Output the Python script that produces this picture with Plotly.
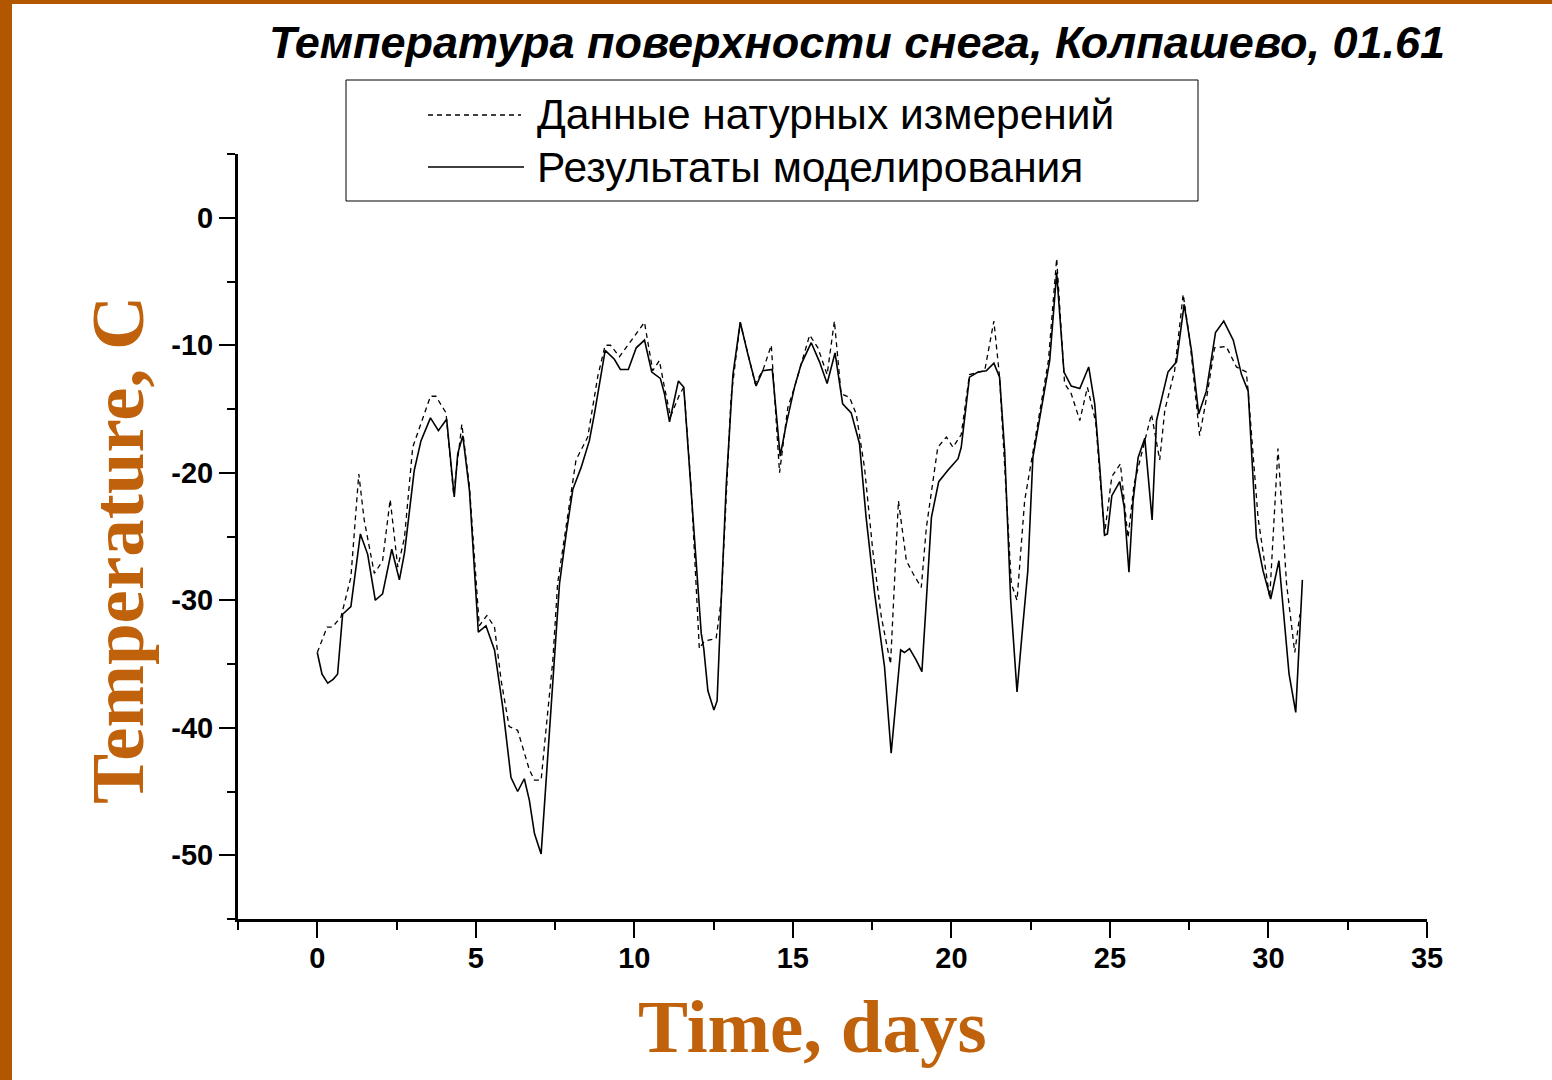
import plotly.graph_objects as go

# Model results: time (days) and snow surface temperature (°C)
t_model = [0.0, 0.15, 0.33, 0.5, 0.64, 0.80, 1.06, 1.36, 1.59, 1.83, 2.06, 2.35, 2.59, 2.75,
           3.06, 3.27, 3.57, 3.82, 4.08, 4.32, 4.43, 4.59, 4.80, 5.08, 5.32, 5.59, 5.85, 6.11,
           6.32, 6.53, 6.69, 6.85, 7.06, 7.22, 7.37, 7.64, 7.85, 8.06, 8.32, 8.58, 8.74, 9.08,
           9.37, 9.56, 9.81, 10.06, 10.32, 10.55, 10.82, 10.95, 11.11, 11.27, 11.39, 11.56,
           11.74, 11.95, 12.11, 12.19, 12.32, 12.51, 12.61, 12.74, 12.90, 13.11, 13.34, 13.58,
           13.84, 14.05, 14.35, 14.60, 14.79, 15.05, 15.26, 15.58, 15.84, 16.08, 16.33, 16.57,
           16.84, 17.10, 17.31, 17.58, 17.89, 18.10, 18.26, 18.40, 18.52, 18.68, 18.89, 19.07,
           19.21, 19.37, 19.60, 19.89, 20.21, 20.31, 20.57, 20.84, 21.10, 21.34, 21.52, 21.68,
           21.87, 22.07, 22.23, 22.41, 22.57, 22.83, 23.10, 23.32, 23.55, 23.78, 24.05, 24.33,
           24.52, 24.68, 24.83, 24.92, 25.06, 25.31, 25.45, 25.60, 25.73, 25.89, 26.10, 26.33,
           26.47, 26.62, 26.83, 27.10, 27.34, 27.57, 27.80, 28.04, 28.33, 28.59, 28.89, 29.15,
           29.36, 29.62, 29.83, 30.07, 30.33, 30.65, 30.86, 31.07]
temp_model = [-34.1, -35.8, -36.5, -36.2, -35.8, -31.1, -30.5, -24.8, -26.4, -30.0, -29.5, -26.0,
              -28.4, -26.3, -19.8, -17.5, -15.7, -16.7, -15.8, -21.9, -18.5, -17.1, -21.4, -32.5,
              -32.0, -33.9, -38.4, -43.9, -45.0, -44.0, -45.7, -48.3, -49.9, -44.1, -39.2, -28.7,
              -24.8, -21.3, -19.6, -17.5, -15.4, -10.4, -11.1, -11.9, -11.9, -10.2, -9.6, -12.1,
              -12.6, -13.8, -16.0, -14.3, -12.8, -13.3, -19.6, -27.4, -32.6, -33.8, -37.1, -38.6,
              -37.9, -30.0, -20.9, -12.3, -8.2, -10.7, -13.2, -12.0, -11.9, -18.7, -16.2, -13.3,
              -11.5, -9.8, -11.3, -13.0, -10.6, -14.6, -15.3, -17.7, -23.5, -29.5, -35.2, -42.0,
              -37.9, -33.9, -34.1, -33.8, -34.7, -35.6, -30.0, -23.5, -20.7, -19.8, -18.9, -18.0,
              -12.5, -12.1, -12.0, -11.4, -12.5, -18.3, -30.0, -37.2, -32.6, -27.7, -18.8, -14.9,
              -11.2, -4.3, -12.1, -13.2, -13.4, -11.7, -14.6, -19.6, -24.9, -24.8, -21.8, -20.7,
              -22.7, -27.8, -22.2, -18.8, -17.3, -23.7, -15.9, -14.3, -12.1, -11.3, -6.8, -10.4,
              -15.4, -13.6, -9.0, -8.1, -9.6, -12.3, -13.6, -25.1, -27.7, -29.9, -26.9, -35.8,
              -38.8, -28.4]

# Field measurements: time (days) and snow surface temperature (°C)
t_obs = [0.0, 0.31, 0.48, 0.75, 1.06, 1.31, 1.48, 1.80, 2.06, 2.30, 2.54, 2.75, 3.01, 3.27,
         3.57, 3.74, 4.06, 4.30, 4.56, 4.80, 5.11, 5.35, 5.59, 5.80, 6.05, 6.32, 6.69, 6.85,
         7.06, 7.22, 7.43, 7.58, 7.90, 8.16, 8.53, 8.85, 9.08, 9.25, 9.53, 9.92, 10.32, 10.58,
         10.79, 10.95, 11.14, 11.42, 11.56, 11.79, 12.05, 12.21, 12.58, 12.74, 13.05, 13.34,
         13.81, 14.05, 14.32, 14.58, 14.84, 15.05, 15.26, 15.53, 15.79, 16.08, 16.31, 16.52,
         16.79, 17.00, 17.26, 17.52, 17.79, 18.08, 18.33, 18.58, 18.79, 19.05, 19.21, 19.57,
         19.84, 20.05, 20.31, 20.57, 21.05, 21.34, 21.52, 21.89, 22.07, 22.31, 22.72, 23.06,
         23.32, 23.57, 23.78, 24.05, 24.29, 24.55, 24.83, 25.06, 25.33, 25.57, 25.76, 26.01,
         26.31, 26.57, 26.73, 27.04, 27.31, 27.52, 27.83, 28.07, 28.30, 28.67, 28.99, 29.30,
         29.36, 29.67, 30.04, 30.30, 30.57, 30.83, 30.99]
temp_obs = [-34.1, -32.1, -32.1, -31.3, -28.2, -20.1, -23.7, -27.9, -26.9, -22.1, -27.4, -25.1,
            -18.0, -16.2, -14.0, -14.0, -15.3, -21.7, -16.2, -21.1, -32.0, -31.2, -32.1, -36.3,
            -39.9, -40.2, -43.3, -44.1, -44.1, -40.0, -34.7, -28.7, -23.2, -19.0, -17.2, -12.4,
            -10.0, -10.0, -10.9, -9.6, -8.2, -12.0, -11.2, -13.3, -15.6, -13.9, -13.3, -21.1,
            -33.8, -33.2, -33.0, -30.0, -14.1, -8.2, -13.0, -12.0, -10.0, -20.0, -14.9, -13.3,
            -11.5, -9.2, -10.2, -12.3, -8.1, -13.8, -14.1, -15.4, -19.6, -26.1, -31.3, -35.0,
            -22.2, -26.9, -27.9, -29.0, -24.3, -18.0, -17.2, -18.0, -17.0, -12.3, -12.0, -8.1,
            -12.5, -28.7, -30.0, -22.2, -16.2, -11.2, -3.2, -13.0, -13.8, -15.9, -13.3, -16.0,
            -24.8, -20.3, -19.3, -25.1, -20.9, -18.3, -15.4, -19.0, -15.1, -12.0, -6.0, -9.6,
            -17.1, -13.8, -10.2, -10.1, -11.7, -12.1, -13.6, -23.5, -29.8, -18.1, -28.7, -34.1,
            -31.1]

x_ticks = [0, 5, 10, 15, 20, 25, 30, 35]
x_tick_labels = ["0", "5", "10", "15", "20", "25", "30", "35"]
y_ticks = [0, -10, -20, -30, -40, -50]
y_tick_labels = ["0", "-10", "-20", "-30", "-40", "-50"]

title_text = "Температура поверхности снега, Колпашево, 01.61"
obs_name = "Данные натурных измерений"
model_name = "Результаты моделирования"
x_title = "Time, days"
y_title = "Temperature, C"

W, H = 1552, 1080
L, R, T, B = 238, 1427, 154, 919   # plot area edges in pixels
ORANGE = "#C0620C"
STRIP = "#B35600"


def px(xp):
    return (xp - L) / (R - L)


def py(yp):
    return (B - yp) / (B - T)


DASH = "5px,4px"

fig = go.Figure()
fig.add_trace(go.Scatter(x=t_obs, y=temp_obs, mode="lines", name=obs_name,
                         line=dict(color="black", width=1.3, dash=DASH), showlegend=False))
fig.add_trace(go.Scatter(x=t_model, y=temp_model, mode="lines", name=model_name,
                         line=dict(color="black", width=1.6), showlegend=False))

axis_common = dict(
    showline=True, linewidth=3, linecolor="black", mirror=False,
    showgrid=False, zeroline=False,
    ticks="outside", ticklen=16, tickwidth=2, tickcolor="black",
    tickfont=dict(family="Liberation Sans, Arial", size=29, color="black", weight="bold"),
)

fig.update_xaxes(range=[-2.5, 35], tickvals=x_ticks, ticktext=x_tick_labels,
                 ticklabelstandoff=-5,
                 minor=dict(dtick=2.5, tick0=0, ticks="outside", ticklen=8, tickwidth=2,
                            tickcolor="black"),
                 **axis_common)
fig.update_yaxes(range=[-55, 5], tickvals=y_ticks, ticktext=y_tick_labels,
                 minor=dict(dtick=5, tick0=0, ticks="outside", ticklen=8, tickwidth=2,
                            tickcolor="black"),
                 **axis_common)

shapes = [
    # slide frame strips
    dict(type="rect", xref="paper", yref="paper", x0=px(0), x1=px(12), y0=py(H), y1=py(0),
         fillcolor=STRIP, line=dict(width=0), layer="below"),
    dict(type="rect", xref="paper", yref="paper", x0=px(0), x1=px(W), y0=py(4), y1=py(0),
         fillcolor=STRIP, line=dict(width=0), layer="below"),
    # legend box
    dict(type="rect", xref="paper", yref="paper", x0=px(346), x1=px(1198), y0=py(201), y1=py(80),
         fillcolor="white", line=dict(color="black", width=1)),
    # legend samples
    dict(type="line", xref="paper", yref="paper", x0=px(428), x1=px(521), y0=py(115), y1=py(115),
         line=dict(color="black", width=1.3, dash=DASH)),
    dict(type="line", xref="paper", yref="paper", x0=px(428), x1=px(524), y0=py(167), y1=py(167),
         line=dict(color="black", width=1.6)),
]

annotations = [
    dict(text=title_text, xref="paper", yref="paper", x=px(857), y=py(42),
         xanchor="center", yanchor="middle", showarrow=False,
         font=dict(family="Liberation Sans, Arial", size=45, color="black",
                   weight="bold", style="italic")),
    dict(text=obs_name, xref="paper", yref="paper", x=px(535), y=py(115),
         xanchor="left", yanchor="middle", showarrow=False,
         font=dict(family="Liberation Sans, Arial", size=42.5, color="black")),
    dict(text=model_name, xref="paper", yref="paper", x=px(535), y=py(167),
         xanchor="left", yanchor="middle", showarrow=False,
         font=dict(family="Liberation Sans, Arial", size=42.5, color="black")),
    dict(text=x_title, xref="paper", yref="paper", x=px(812), y=py(1026),
         xanchor="center", yanchor="middle", showarrow=False,
         font=dict(family="Liberation Serif, Times New Roman", size=75, color=ORANGE,
                   weight="bold")),
    dict(text=y_title, xref="paper", yref="paper", x=px(117), y=py(550),
         xanchor="center", yanchor="middle", showarrow=False, textangle=-90,
         font=dict(family="Liberation Serif, Times New Roman", size=75, color=ORANGE,
                   weight="bold")),
]

fig.update_layout(
    width=W, height=H,
    margin=dict(l=L, r=W - R, t=T, b=H - B, pad=0),
    paper_bgcolor="white", plot_bgcolor="white",
    shapes=shapes, annotations=annotations,
    showlegend=False,
)

fig.write_html("out.html")
